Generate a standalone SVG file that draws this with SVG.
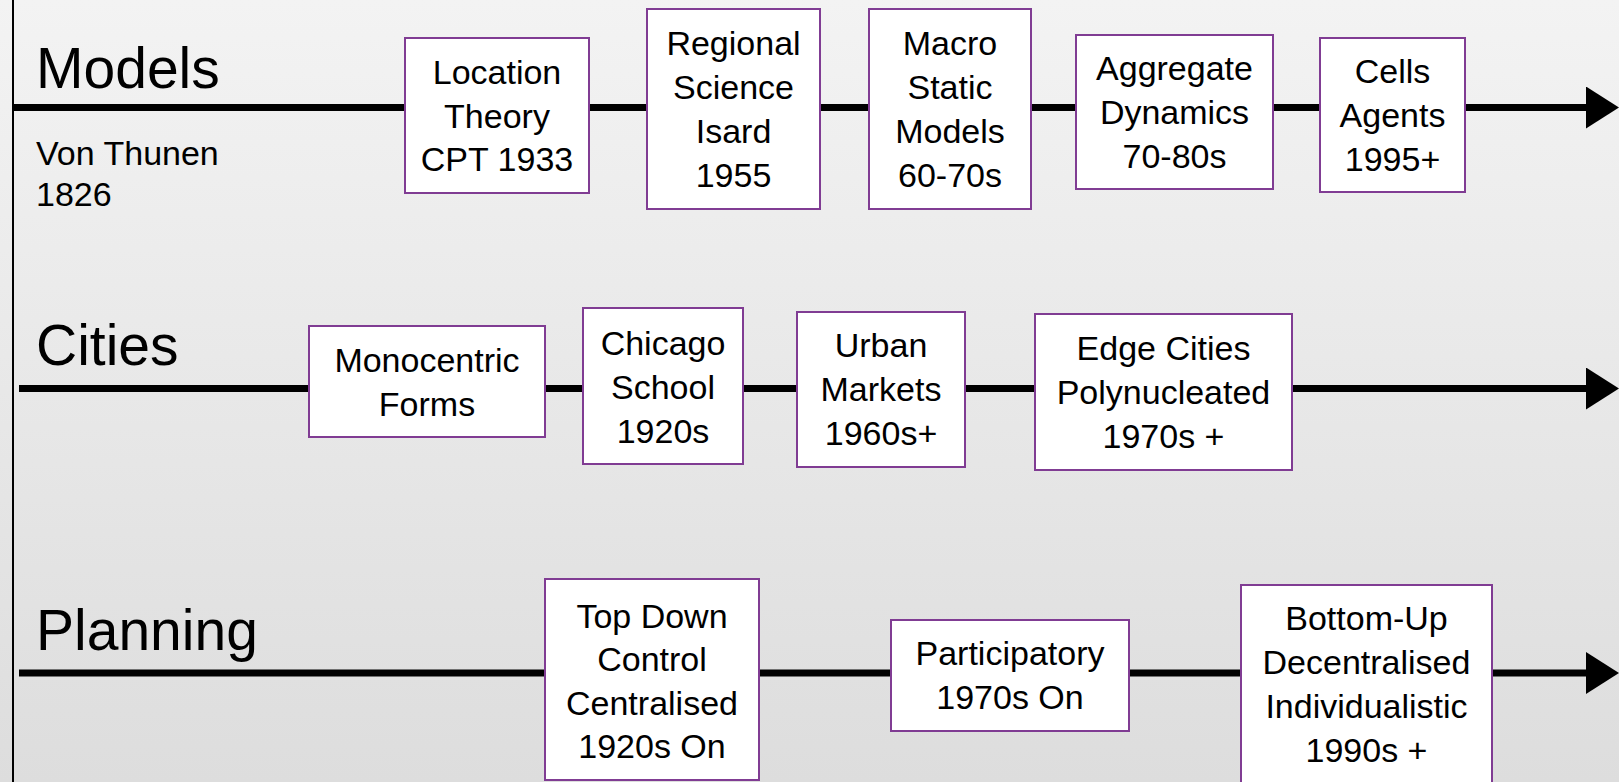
<svg xmlns="http://www.w3.org/2000/svg" width="1619" height="782" viewBox="0 0 1619 782">
<defs>
<linearGradient id="bg" x1="0" y1="0" x2="0" y2="1">
<stop offset="0" stop-color="#f3f3f3"/>
<stop offset="1" stop-color="#dddddd"/>
</linearGradient>
<marker id="arr" markerUnits="userSpaceOnUse" markerWidth="34" markerHeight="42" refX="0" refY="21" orient="auto" viewBox="0 0 34 42">
<polygon points="0,0 33,21 0,42" fill="#000"/>
</marker>
<style>
.box{fill:#fff;stroke:#803c93;stroke-width:2}
.t{font-family:"Liberation Sans",Arial,sans-serif;font-size:34px;fill:#000;text-anchor:middle}
.title{font-family:"Liberation Sans",Arial,sans-serif;font-size:57px;fill:#000}
.note{font-family:"Liberation Sans",Arial,sans-serif;font-size:34px;fill:#000}
.ln{stroke:#000;stroke-width:7;fill:none;marker-end:url(#arr)}
</style>
</defs>
<rect x="0" y="0" width="1619" height="782" fill="url(#bg)"/>
<line x1="13" y1="0" x2="13" y2="782" stroke="#000" stroke-width="2"/>
<g id="connectors">
<line class="ln" x1="13" y1="107.5" x2="1586" y2="107.5"/>
<line class="ln" x1="19" y1="388.5" x2="1586" y2="388.5"/>
<line class="ln" x1="19" y1="673" x2="1586" y2="673"/>
</g>
<g id="label-models"><text class="title" x="36" y="88">Models</text></g>
<g id="label-vonthunen"><text class="note" x="36" y="165">Von Thunen</text><text class="note" x="36" y="206">1826</text></g>
<g id="label-cities"><text class="title" x="36" y="365">Cities</text></g>
<g id="label-planning"><text class="title" x="36" y="650">Planning</text></g>

<g id="n-location"><rect class="box" x="405" y="38" width="184" height="155"/>
<text class="t" x="497" y="84">Location</text><text class="t" x="497" y="128">Theory</text><text class="t" x="497" y="171">CPT 1933</text></g>
<g id="n-regional"><rect class="box" x="647" y="9" width="173" height="200"/>
<text class="t" x="733.5" y="55">Regional</text><text class="t" x="733.5" y="99">Science</text><text class="t" x="733.5" y="143">Isard</text><text class="t" x="733.5" y="187">1955</text></g>
<g id="n-macro"><rect class="box" x="869" y="9" width="162" height="200"/>
<text class="t" x="950" y="55">Macro</text><text class="t" x="950" y="99">Static</text><text class="t" x="950" y="143">Models</text><text class="t" x="950" y="187">60-70s</text></g>
<g id="n-aggregate"><rect class="box" x="1076" y="35" width="197" height="154"/>
<text class="t" x="1174.5" y="80">Aggregate</text><text class="t" x="1174.5" y="124">Dynamics</text><text class="t" x="1174.5" y="168">70-80s</text></g>
<g id="n-cells"><rect class="box" x="1320" y="38" width="145" height="154"/>
<text class="t" x="1392.5" y="83">Cells</text><text class="t" x="1392.5" y="127">Agents</text><text class="t" x="1392.5" y="171">1995+</text></g>

<g id="n-monocentric"><rect class="box" x="309" y="326" width="236" height="111"/>
<text class="t" x="427" y="372">Monocentric</text><text class="t" x="427" y="416">Forms</text></g>
<g id="n-chicago"><rect class="box" x="583" y="308" width="160" height="156"/>
<text class="t" x="663" y="355">Chicago</text><text class="t" x="663" y="399">School</text><text class="t" x="663" y="443">1920s</text></g>
<g id="n-urban"><rect class="box" x="797" y="312" width="168" height="155"/>
<text class="t" x="881" y="357">Urban</text><text class="t" x="881" y="401">Markets</text><text class="t" x="881" y="445">1960s+</text></g>
<g id="n-edge"><rect class="box" x="1035" y="314" width="257" height="156"/>
<text class="t" x="1163.5" y="360">Edge Cities</text><text class="t" x="1163.5" y="404">Polynucleated</text><text class="t" x="1163.5" y="448">1970s +</text></g>

<g id="n-topdown"><rect class="box" x="545" y="579" width="214" height="201"/>
<text class="t" x="652" y="628">Top Down</text><text class="t" x="652" y="671">Control</text><text class="t" x="652" y="715">Centralised</text><text class="t" x="652" y="758">1920s On</text></g>
<g id="n-participatory"><rect class="box" x="891" y="620" width="238" height="111"/>
<text class="t" x="1010" y="665">Participatory</text><text class="t" x="1010" y="709">1970s On</text></g>
<g id="n-bottomup"><rect class="box" x="1241" y="585" width="251" height="210"/>
<text class="t" x="1366.5" y="630">Bottom-Up</text><text class="t" x="1366.5" y="674">Decentralised</text><text class="t" x="1366.5" y="718">Individualistic</text><text class="t" x="1366.5" y="762">1990s +</text></g>
</svg>
